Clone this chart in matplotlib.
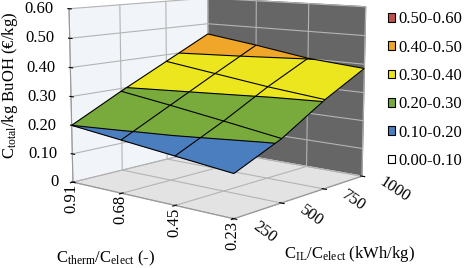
import numpy as np
import matplotlib
matplotlib.use('Agg')
import matplotlib.pyplot as plt
import matplotlib.tri as mtri
from matplotlib.patches import Patch
from mpl_toolkits.mplot3d.art3d import Poly3DCollection

# ---------------- data ----------------
therm_labels = ['0.91', '0.68', '0.45', '0.23']          # C_therm/C_elect (-)
il_labels = ['250', '500', '750', '1000']                # C_IL/C_elect (kWh/kg)
cost_therm_091 = [0.200, 0.290, 0.375, 0.460]
cost_therm_068 = [0.180, 0.265, 0.350, 0.433]
cost_therm_045 = [0.160, 0.238, 0.325, 0.402]
cost_therm_023 = [0.140, 0.210, 0.305, 0.385]
band_levels = [0.0, 0.1, 0.2, 0.3, 0.4, 0.5, 0.6]
band_labels = ['0.00-0.10', '0.10-0.20', '0.20-0.30', '0.30-0.40', '0.40-0.50', '0.50-0.60']
band_colors = ['#ffffff', '#4a7ebf', '#78aa3c', '#ece61e', '#f0a628', '#c0504d']
z_ticks = [0.0, 0.1, 0.2, 0.3, 0.4, 0.5, 0.6]
z_ticklabels = ['0', '0.10', '0.20', '0.30', '0.40', '0.50', '0.60']

plt.rcParams['font.family'] = ['Liberation Serif', 'DejaVu Serif']
plt.rcParams['mathtext.fontset'] = 'custom'
plt.rcParams['mathtext.rm'] = 'Liberation Serif'
plt.rcParams['mathtext.it'] = 'Liberation Serif:italic'
plt.rcParams['grid.color'] = '#b4b4b4'
plt.rcParams['grid.linewidth'] = 0.8
FS = 12

Z = np.array([cost_therm_091, cost_therm_068, cost_therm_045, cost_therm_023])
ii, jj = np.meshgrid(np.arange(len(therm_labels)), np.arange(len(il_labels)), indexing='ij')
tri = mtri.Triangulation(ii.ravel().astype(float), jj.ravel().astype(float))
zflat = Z.ravel()

# band polygons via matplotlib's contour generator
tmpfig, tmpax = plt.subplots()
cs = tmpax.tricontourf(tri, zflat, levels=band_levels)
interp = mtri.LinearTriInterpolator(tri, zflat)
xmax_i = len(therm_labels) - 1
ymax_j = len(il_labels) - 1
verts, fcols = [], []
for k, path in enumerate(cs.get_paths()):
    for poly in path.to_polygons(closed_only=True):
        px = np.clip(poly[:, 0], 1e-9, xmax_i - 1e-9)
        py = np.clip(poly[:, 1], 1e-9, ymax_j - 1e-9)
        pz = np.ma.filled(interp(px, py), np.nan)
        if np.any(np.isnan(pz)):
            continue
        verts.append(list(zip(px, py, pz)))
        fcols.append(band_colors[k])
plt.close(tmpfig)

fig = plt.figure(figsize=(4.68, 2.68), dpi=100)
ax = fig.add_axes([0.039, 0.031, 0.84, 1.2], projection='3d')
ax.computed_zorder = False
ax.view_init(elev=9, azim=-50)
ax.set_proj_type('persp', focal_length=0.6)
ax.set_box_aspect((1, 1, 0.835), zoom=1.03)

ax.set_xlim(0, xmax_i)
ax.set_ylim(0, ymax_j)
ax.set_zlim(0, 0.6)

surf = Poly3DCollection(verts, facecolors=fcols, edgecolors=fcols, linewidths=0.3, zorder=1)
ax.add_collection3d(surf)
ax.plot_wireframe(ii, jj, Z, color='black', linewidth=0.8, zorder=3)
lines = ax.tricontour(tri, zflat, levels=band_levels[1:-1], colors='black', linewidths=0.8)
lines.set_zorder(3)

# panes
ax.xaxis.set_pane_color((0.945, 0.955, 0.975, 1.0))
ax.yaxis.set_pane_color((0.40, 0.40, 0.40, 1.0))
ax.zaxis.set_pane_color((0.89, 0.89, 0.89, 1.0))
for a in (ax.xaxis, ax.yaxis, ax.zaxis):
    a.line.set_color((0.6, 0.6, 0.6))
    a.line.set_linewidth(0.8)

ax.zaxis._axinfo['juggled'] = (1, 2, 0)

ax.set_xticks(range(len(therm_labels)))
ax.set_xticklabels(therm_labels, fontsize=FS)
ax.set_yticks(range(len(il_labels)))
ax.set_yticklabels([])
ax.set_zticks(z_ticks)
ax.set_zticklabels(z_ticklabels, fontsize=FS)
for t in ax.xaxis.get_ticklabels():
    t.set(rotation=90, ha='center', va='top')
for t in ax.zaxis.get_ticklabels():
    t.set(ha='right', va='center')
ax.tick_params(axis='x', pad=-7)
ax.tick_params(axis='z', pad=-2)

# IL tick labels placed in data coordinates beside the front-right floor edge
for j, lab in enumerate(il_labels):
    ax.text(xmax_i + 0.33, j, -0.005, lab, zdir=(1, 0, -0.1), fontsize=FS,
            ha='left', va='center', rotation_mode='anchor')

fig.text(0.225, 0.035, r'C$_\mathregular{therm}$/C$_\mathregular{elect}$ (-)', fontsize=FS,
         ha='center', va='center')
fig.text(0.746, 0.052, r'C$_\mathregular{IL}$/C$_\mathregular{elect}$ (kWh/kg)', fontsize=FS,
         ha='center', va='center')
fig.text(0.022, 0.683, r'C$_\mathregular{total}$/kg BuOH (€/kg)', fontsize=FS,
         ha='center', va='center', rotation=90)

handles = [Patch(facecolor=c, edgecolor='black', linewidth=0.8) for c in band_colors[::-1]]
fig.legend(handles, band_labels[::-1], loc='upper left', bbox_to_anchor=(0.829, 0.958),
           frameon=False, fontsize=FS, handlelength=0.45, handleheight=0.45,
           handletextpad=0.15, labelspacing=0.74, borderaxespad=0, borderpad=0)

fig.savefig('out.png', dpi=100)
